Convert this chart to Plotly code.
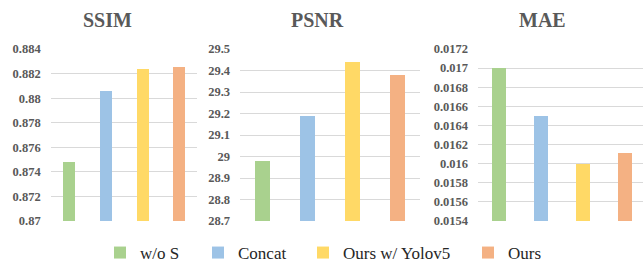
import plotly.graph_objects as go

methods = ["w/o S", "Concat", "Ours w/ Yolov5", "Ours"]
colors = ["#A9D18E", "#9DC3E6", "#FFD966", "#F4B183"]

ssim = [0.8748, 0.8806, 0.8824, 0.8825]
psnr = [28.98, 29.19, 29.44, 29.38]
mae = [0.0170, 0.0165, 0.0160, 0.01611]

ssim_ticks = [0.87, 0.872, 0.874, 0.876, 0.878, 0.88, 0.882, 0.884]
ssim_text = ["0.87", "0.872", "0.874", "0.876", "0.878", "0.88", "0.882", "0.884"]
psnr_ticks = [28.7, 28.8, 28.9, 29.0, 29.1, 29.2, 29.3, 29.4, 29.5]
psnr_text = ["28.7", "28.8", "28.9", "29", "29.1", "29.2", "29.3", "29.4", "29.5"]
mae_ticks = [0.0154, 0.0156, 0.0158, 0.016, 0.0162, 0.0164, 0.0166, 0.0168, 0.017, 0.0172]
mae_text = ["0.0154", "0.0156", "0.0158", "0.016", "0.0162", "0.0164", "0.0166", "0.0168", "0.017", "0.0172"]

titles = ["SSIM", "PSNR", "MAE"]

W, H = 643, 263
fig = go.Figure()

legend_names = ["legend", "legend2", "legend3", "legend4"]
panels = [
    (ssim, "x", "y"),
    (psnr, "x2", "y2"),
    (mae, "x3", "y3"),
]
for pi, (vals, xa, ya) in enumerate(panels):
    for i, m in enumerate(methods):
        fig.add_trace(go.Bar(
            x=[m], y=[vals[i]], xaxis=xa, yaxis=ya,
            marker=dict(color=colors[i], line=dict(width=0)),
            width=0.33, name=m, showlegend=(pi == 0),
            legendgroup=m, legend=legend_names[i],
        ))

ydom = [(H - 221) / H, (H - 49) / H]
serif = "Liberation Serif"

def tickfont():
    return dict(family=serif, size=12.5, color="#595959", weight="bold")

def xaxis(d0, d1, rng=None):
    ax = dict(domain=[d0 / W, d1 / W], showticklabels=False, showgrid=False,
              zeroline=False, showline=False, ticks="", fixedrange=True)
    if rng:
        ax["range"] = rng
    return ax

def yaxis(anchor, r, tv, tt):
    return dict(domain=ydom, anchor=anchor, range=r, tickvals=tv, ticktext=tt,
                showgrid=True, gridcolor="#D9D9D9", gridwidth=1, zeroline=False,
                showline=False, ticks="", tickfont=tickfont(), ticklabelstandoff=9,
                automargin=False, fixedrange=True)

legend_x = [100, 198, 303, 468]
legends = {}
for name, lx in zip(legend_names, legend_x):
    legends[name] = dict(orientation="h", x=lx / W, xanchor="left",
                         y=(H - 253) / H, yanchor="middle",
                         font=dict(family=serif, size=17, color="#262626"),
                         bgcolor="rgba(0,0,0,0)", borderwidth=0)

fig.update_layout(
    width=W, height=H,
    font=dict(family=serif),
    margin=dict(l=0, r=0, t=0, b=0, autoexpand=False),
    paper_bgcolor="white", plot_bgcolor="white",
    bargap=0,
    xaxis=dict(**xaxis(50.7, 197.3), anchor="y"),
    xaxis2=dict(**xaxis(240, 420), anchor="y2"),
    xaxis3=dict(**xaxis(478, 643, [-0.5, 3.43]), anchor="y3"),
    yaxis=yaxis("x", [0.87, 0.884], ssim_ticks, ssim_text),
    yaxis2=yaxis("x2", [28.7, 29.5], psnr_ticks, psnr_text),
    yaxis3=yaxis("x3", [0.0154, 0.0172], mae_ticks, mae_text),
    showlegend=True,
    **legends,
)

centers = [107, 317, 542]
for t, cx in zip(titles, centers):
    fig.add_annotation(text=t, x=cx / W, y=1 - 20 / H, xref="paper", yref="paper",
                       xanchor="center", yanchor="middle", showarrow=False,
                       font=dict(family=serif, size=20, color="#595959", weight="bold"))

fig.write_html("out.html", config={"displayModeBar": False},
               post_script="document.body.style.margin='0';")
